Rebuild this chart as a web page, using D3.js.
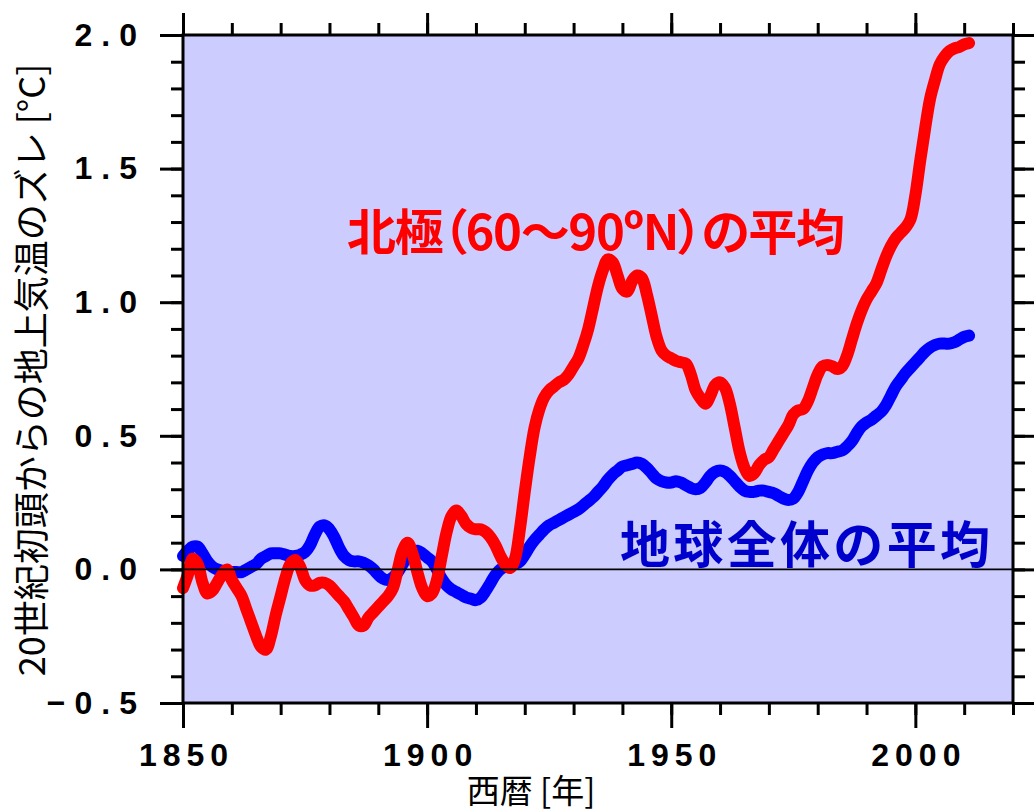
<!DOCTYPE html>
<html>
<head>
<meta charset="utf-8">
<script src="https://cdn.jsdelivr.net/npm/d3@7"></script>
<style>
  html, body { margin: 0; padding: 0; background: #ffffff; }
  svg { display: block; }
</style>
</head>
<body>
<svg id="chart" width="1034" height="812"></svg>
<script>
// Surface air temperature anomaly relative to the early 20th century (°C)
const years = d3.range(1850, 2012);

// Arctic (60–90°N) mean
const arcticAnomaly = [
  -0.07, -0.02, 0.04, 0.02, -0.05, -0.09, -0.08, -0.05, -0.02, 0.00,
  -0.04, -0.07, -0.10, -0.15, -0.20, -0.25, -0.29, -0.30, -0.25, -0.17,
  -0.10, -0.03, 0.02, 0.035, 0.01, -0.04, -0.06, -0.06, -0.05, -0.05,
  -0.06, -0.08, -0.10, -0.12, -0.15, -0.18, -0.21, -0.21, -0.18, -0.16,
  -0.14, -0.12, -0.10, -0.07, 0.00, 0.07, 0.10, 0.06, -0.01, -0.07,
  -0.10, -0.09, -0.04, 0.05, 0.14, 0.20, 0.22, 0.20, 0.17, 0.155,
  0.15, 0.15, 0.14, 0.12, 0.09, 0.05, 0.02, 0.005, 0.04, 0.15,
  0.29, 0.42, 0.53, 0.60, 0.645, 0.67, 0.685, 0.70, 0.71, 0.73,
  0.76, 0.79, 0.84, 0.90, 0.98, 1.06, 1.12, 1.16, 1.15, 1.10,
  1.05, 1.04, 1.08, 1.10, 1.09, 1.03, 0.95, 0.87, 0.82, 0.80,
  0.79, 0.78, 0.775, 0.77, 0.73, 0.67, 0.64, 0.62, 0.65, 0.69,
  0.70, 0.68, 0.62, 0.53, 0.44, 0.38, 0.35, 0.36, 0.39, 0.41,
  0.42, 0.45, 0.48, 0.51, 0.54, 0.58, 0.595, 0.60, 0.63, 0.68,
  0.73, 0.76, 0.765, 0.76, 0.75, 0.76, 0.80, 0.86, 0.92, 0.97,
  1.01, 1.04, 1.07, 1.12, 1.17, 1.21, 1.24, 1.26, 1.28, 1.31,
  1.40, 1.53, 1.65, 1.76, 1.83, 1.89, 1.92, 1.94, 1.95, 1.955,
  1.965, 1.97
];

// Global mean
const globalAnomaly = [
  0.05, 0.07, 0.085, 0.085, 0.06, 0.03, 0.01, 0.00, -0.005, -0.01,
  -0.01, -0.01, -0.01, 0.00, 0.01, 0.02, 0.04, 0.05, 0.06, 0.06,
  0.06, 0.055, 0.05, 0.05, 0.055, 0.065, 0.09, 0.13, 0.16, 0.165,
  0.15, 0.12, 0.08, 0.05, 0.035, 0.03, 0.03, 0.025, 0.015, 0.00,
  -0.02, -0.035, -0.04, -0.03, -0.01, 0.02, 0.05, 0.065, 0.07, 0.06,
  0.045, 0.03, 0.00, -0.035, -0.06, -0.075, -0.085, -0.095, -0.105, -0.11,
  -0.115, -0.105, -0.08, -0.05, -0.02, 0.00, 0.01, 0.015, 0.02, 0.03,
  0.055, 0.085, 0.11, 0.13, 0.15, 0.165, 0.175, 0.185, 0.195, 0.205,
  0.215, 0.225, 0.24, 0.255, 0.27, 0.29, 0.31, 0.335, 0.355, 0.37,
  0.385, 0.39, 0.395, 0.40, 0.395, 0.38, 0.36, 0.34, 0.33, 0.325,
  0.325, 0.33, 0.325, 0.315, 0.305, 0.30, 0.305, 0.325, 0.35, 0.365,
  0.37, 0.365, 0.35, 0.33, 0.31, 0.295, 0.29, 0.29, 0.295, 0.295,
  0.29, 0.285, 0.275, 0.265, 0.26, 0.265, 0.29, 0.33, 0.37, 0.40,
  0.42, 0.43, 0.435, 0.435, 0.44, 0.445, 0.46, 0.48, 0.51, 0.535,
  0.55, 0.56, 0.575, 0.59, 0.615, 0.65, 0.685, 0.71, 0.735, 0.755,
  0.775, 0.795, 0.815, 0.83, 0.84, 0.845, 0.845, 0.845, 0.85, 0.86,
  0.87, 0.875
];

const xMajorTicks = [1850, 1900, 1950, 2000];
const xMinorTicks = [1850, 1860, 1870, 1880, 1890, 1900, 1910, 1920, 1930, 1940,
                     1950, 1960, 1970, 1980, 1990, 2000, 2010, 2020];
const yMajorTicks = [-0.5, 0.0, 0.5, 1.0, 1.5, 2.0];
const yMinorTicks = [-0.5, -0.4, -0.3, -0.2, -0.1, 0.0, 0.1, 0.2, 0.3, 0.4, 0.5,
                     0.6, 0.7, 0.8, 0.9, 1.0, 1.1, 1.2, 1.3, 1.4, 1.5, 1.6, 1.7,
                     1.8, 1.9, 2.0];

const arcticLabel = "北極（60〜90ºN）の平均";
const globalLabel = "地球全体の平均";
const xTitle = "西暦 [年]";
const yTitle = "20世紀初頭からの地上気温のズレ [°C]";

const svg = d3.select("#chart");
const plotLeft = 183, plotRight = 1013, plotTop = 35, plotBottom = 703;

const x = d3.scaleLinear().domain([1850, 2020]).range([plotLeft, plotRight]);
const y = d3.scaleLinear().domain([-0.5, 2.0]).range([plotBottom, plotTop]);

const tickFont = "'Liberation Sans', Arial, Helvetica, sans-serif";
const cjkFont = "'Noto Sans CJK JP', 'Noto Sans', sans-serif";

// plot background
svg.append("rect")
  .attr("x", plotLeft).attr("y", plotTop)
  .attr("width", plotRight - plotLeft).attr("height", plotBottom - plotTop)
  .attr("fill", "#ccccff");

// axes (ticks outside on all four sides)
function styleAxis(g) {
  g.select(".domain").remove();
  g.selectAll(".tick line").attr("stroke", "#000").attr("stroke-width", 3);
}

const xsp = 6;
svg.append("g").attr("transform", `translate(0,${plotBottom})`)
  .call(d3.axisBottom(x).tickValues(xMinorTicks).tickSize(12).tickFormat(""))
  .call(styleAxis);
svg.append("g").attr("transform", `translate(0,${plotBottom})`)
  .call(d3.axisBottom(x).tickValues(xMajorTicks).tickSize(25).tickPadding(15)
        .tickFormat(d3.format("d")))
  .call(styleAxis)
  .call(g => g.selectAll("text")
    .attr("font-family", tickFont).attr("font-size", 32).attr("font-weight", "bold")
    .attr("letter-spacing", xsp).attr("dx", xsp / 2).attr("fill", "#000"));

svg.append("g").attr("transform", `translate(0,${plotTop})`)
  .call(d3.axisTop(x).tickValues(xMinorTicks).tickSize(12).tickFormat(""))
  .call(styleAxis);
svg.append("g").attr("transform", `translate(0,${plotTop})`)
  .call(d3.axisTop(x).tickValues(xMajorTicks).tickSize(22).tickFormat(""))
  .call(styleAxis);

const ysp = 9;
svg.append("g").attr("transform", `translate(${plotLeft},0)`)
  .call(d3.axisLeft(y).tickValues(yMinorTicks).tickSize(12).tickFormat(""))
  .call(styleAxis);
svg.append("g").attr("transform", `translate(${plotLeft},0)`)
  .call(d3.axisLeft(y).tickValues(yMajorTicks).tickSize(23).tickPadding(23 - ysp)
        .tickFormat(d3.format(".1f")))
  .call(styleAxis)
  .call(g => g.selectAll("text")
    .attr("font-family", tickFont).attr("font-size", 32).attr("font-weight", "bold")
    .attr("letter-spacing", ysp).attr("fill", "#000"));

svg.append("g").attr("transform", `translate(${plotRight},0)`)
  .call(d3.axisRight(y).tickValues(yMinorTicks).tickSize(12).tickFormat(""))
  .call(styleAxis);
svg.append("g").attr("transform", `translate(${plotRight},0)`)
  .call(d3.axisRight(y).tickValues(yMajorTicks).tickSize(23).tickFormat(""))
  .call(styleAxis);

// series lines
const line = d3.line()
  .x(d => x(d[0]))
  .y(d => y(d[1]))
  .curve(d3.curveCatmullRom.alpha(0.5));

const globalSeries = years.map((yr, i) => [yr, globalAnomaly[i]]);
const arcticSeries = years.map((yr, i) => [yr, arcticAnomaly[i]]);

svg.append("path").datum(globalSeries)
  .attr("d", line).attr("fill", "none")
  .attr("stroke", "#0000ff").attr("stroke-width", 12)
  .attr("stroke-linecap", "round").attr("stroke-linejoin", "round");

svg.append("path").datum(arcticSeries)
  .attr("d", line).attr("fill", "none")
  .attr("stroke", "#ff0000").attr("stroke-width", 12)
  .attr("stroke-linecap", "round").attr("stroke-linejoin", "round");

// zero reference line
svg.append("line")
  .attr("x1", plotLeft).attr("x2", plotRight)
  .attr("y1", y(0)).attr("y2", y(0))
  .attr("stroke", "#000").attr("stroke-width", 1.6);

// frame
svg.append("rect")
  .attr("x", plotLeft).attr("y", plotTop)
  .attr("width", plotRight - plotLeft).attr("height", plotBottom - plotTop)
  .attr("fill", "none").attr("stroke", "#000").attr("stroke-width", 3);

// series labels
svg.append("text")
  .attr("x", 347).attr("y", 228)
  .attr("dominant-baseline", "central")
  .attr("font-family", cjkFont).attr("font-size", 49).attr("font-weight", "bold")
  .style("font-feature-settings", "'palt' 1")
  .attr("textLength", 498).attr("lengthAdjust", "spacing")
  .attr("fill", "#ff0000")
  .text(arcticLabel);

svg.append("text")
  .attr("x", 620).attr("y", 541)
  .attr("dominant-baseline", "central")
  .attr("font-family", cjkFont).attr("font-size", 50).attr("font-weight", "bold")
  .attr("textLength", 370).attr("lengthAdjust", "spacing")
  .attr("fill", "#0000cc")
  .text(globalLabel);

// axis titles
svg.append("text")
  .attr("x", 531).attr("y", 789)
  .attr("text-anchor", "middle").attr("dominant-baseline", "central")
  .attr("font-family", cjkFont).attr("font-size", 33)
  .attr("fill", "#000")
  .text(xTitle);

svg.append("text")
  .attr("transform", "translate(29,370) rotate(-90)")
  .attr("text-anchor", "middle").attr("dominant-baseline", "central")
  .attr("font-family", cjkFont).attr("font-size", 36)
  .attr("fill", "#000")
  .text(yTitle);
</script>
</body>
</html>
